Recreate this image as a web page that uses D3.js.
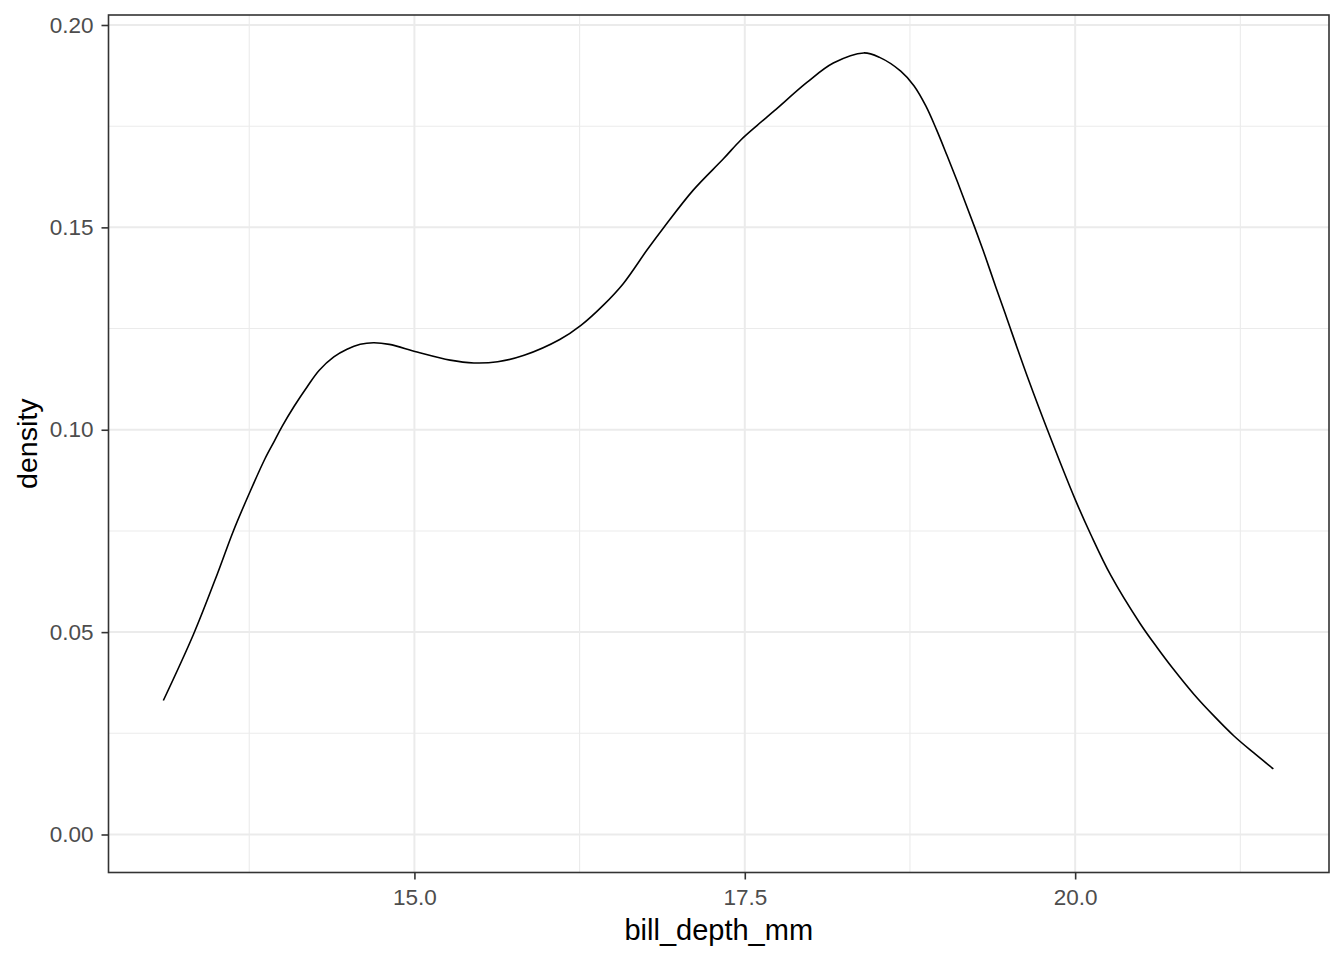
<!DOCTYPE html>
<html>
<head>
<meta charset="utf-8">
<script src="https://cdn.jsdelivr.net/npm/d3@7"></script>
<style>
  html, body { margin: 0; padding: 0; background: #fff; }
  svg { display: block; }
  text { font-family: "Liberation Sans", Arial, sans-serif; }
</style>
</head>
<body>
<svg id="chart" width="1344" height="960"></svg>
<script>
// Data (kernel density of bill_depth_mm)
const billDepth = [13.10,13.33,13.51,13.63,13.76,13.87,13.94,14.00,14.09,14.19,14.28,14.39,14.49,14.59,14.69,14.81,15.02,15.27,15.45,15.63,15.83,16.10,16.26,16.43,16.58,16.76,16.89,17.11,17.34,17.47,17.59,17.72,17.97,18.17,18.40,18.52,18.68,18.78,18.87,18.95,19.03,19.11,19.17,19.24,19.32,19.40,19.47,19.51,19.65,19.79,20.00,20.12,20.27,20.49,20.62,20.74,20.90,21.05,21.20,21.35,21.50];
const density = [0.0331,0.0496,0.0645,0.0750,0.0850,0.0929,0.0972,0.1009,0.1058,0.1107,0.1147,0.1180,0.1199,0.1211,0.1215,0.1211,0.1192,0.1172,0.1165,0.1168,0.1184,0.1223,0.1258,0.1308,0.1361,0.1444,0.1501,0.1592,0.1670,0.1716,0.1751,0.1787,0.1858,0.1906,0.1931,0.1920,0.1886,0.1850,0.1800,0.1742,0.1678,0.1612,0.1560,0.1500,0.1428,0.1352,0.1288,0.1250,0.1121,0.1000,0.0828,0.0740,0.0640,0.0522,0.0462,0.0410,0.0346,0.0293,0.0244,0.0202,0.0162];
const xMajorTicks = [15.0, 17.5, 20.0];
const xMinorTicks = [13.75, 16.25, 18.75, 21.25];
const yMajorTicks = [0.00, 0.05, 0.10, 0.15, 0.20];
const yMinorTicks = [0.025, 0.075, 0.125, 0.175];
const xTitle = "bill_depth_mm";
const yTitle = "density";

const panel = { left: 108.5, right: 1329, top: 15, bottom: 872.5 };
const svg = d3.select("#chart");

const x = d3.scaleLinear().domain([12.685, 21.921]).range([panel.left, panel.right]);
const y = d3.scaleLinear().domain([-0.00939, 0.20247]).range([panel.bottom, panel.top]);

const grid = svg.append("g");
// minor grid
grid.selectAll("line.xmin").data(xMinorTicks).enter().append("line")
  .attr("x1", d => x(d)).attr("x2", d => x(d))
  .attr("y1", panel.top).attr("y2", panel.bottom)
  .attr("stroke", "#EBEBEB").attr("stroke-width", 1.1);
grid.selectAll("line.ymin").data(yMinorTicks).enter().append("line")
  .attr("y1", d => y(d)).attr("y2", d => y(d))
  .attr("x1", panel.left).attr("x2", panel.right)
  .attr("stroke", "#EBEBEB").attr("stroke-width", 1.1);
// major grid
grid.selectAll("line.xmaj").data(xMajorTicks).enter().append("line")
  .attr("x1", d => x(d)).attr("x2", d => x(d))
  .attr("y1", panel.top).attr("y2", panel.bottom)
  .attr("stroke", "#EBEBEB").attr("stroke-width", 2);
grid.selectAll("line.ymaj").data(yMajorTicks).enter().append("line")
  .attr("y1", d => y(d)).attr("y2", d => y(d))
  .attr("x1", panel.left).attr("x2", panel.right)
  .attr("stroke", "#EBEBEB").attr("stroke-width", 2);

// density line
const pts = billDepth.map((v, i) => [v, density[i]]);
const line = d3.line().x(d => x(d[0])).y(d => y(d[1])).curve(d3.curveCatmullRom.alpha(0.5));
svg.append("path").datum(pts)
  .attr("d", line).attr("fill", "none")
  .attr("stroke", "#000").attr("stroke-width", 1.6)
  .attr("stroke-linejoin", "round");

// panel border
svg.append("rect")
  .attr("x", panel.left).attr("y", panel.top)
  .attr("width", panel.right - panel.left).attr("height", panel.bottom - panel.top)
  .attr("fill", "none").attr("stroke", "#333333").attr("stroke-width", 1.6);

// axes
const xAxis = d3.axisBottom(x).tickValues(xMajorTicks).tickFormat(d3.format(".1f")).tickSizeOuter(0).tickSizeInner(7).tickPadding(10);
const gx = svg.append("g").attr("transform", `translate(0,${panel.bottom})`).call(xAxis);
gx.select(".domain").remove();
gx.selectAll(".tick line").attr("stroke", "#333333").attr("stroke-width", 1.6);
gx.selectAll(".tick text").attr("fill", "#4D4D4D").style("font-size", "22.5px")
  .style("font-family", "'Liberation Sans', Arial, sans-serif");

const yAxis = d3.axisLeft(y).tickValues(yMajorTicks).tickFormat(d3.format(".2f")).tickSizeOuter(0).tickSizeInner(7).tickPadding(8);
const gy = svg.append("g").attr("transform", `translate(${panel.left},0)`).call(yAxis);
gy.select(".domain").remove();
gy.selectAll(".tick line").attr("stroke", "#333333").attr("stroke-width", 1.6);
gy.selectAll(".tick text").attr("fill", "#4D4D4D").style("font-size", "22.5px")
  .style("font-family", "'Liberation Sans', Arial, sans-serif");

// titles
svg.append("text").attr("x", (panel.left + panel.right) / 2).attr("y", 940)
  .attr("text-anchor", "middle").attr("fill", "#000").style("font-size", "29px").text(xTitle);
svg.append("text").attr("transform", `translate(37,${(panel.top + panel.bottom) / 2}) rotate(-90)`)
  .attr("text-anchor", "middle").attr("fill", "#000").style("font-size", "28.5px").text(yTitle);
</script>
</body>
</html>
